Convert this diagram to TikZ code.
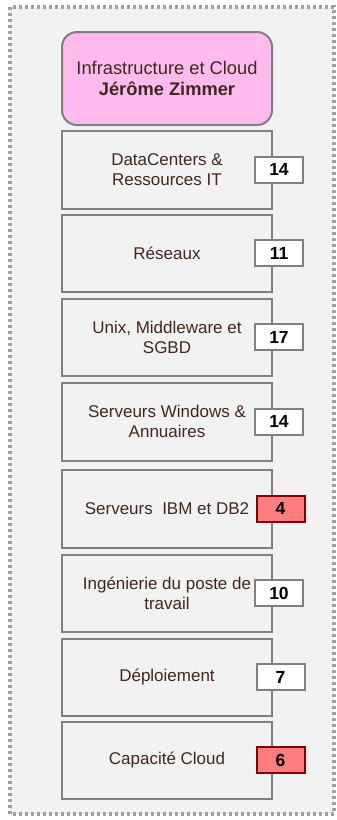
\documentclass[tikz,border=0pt]{standalone}
\usepackage{fontspec}
\setmainfont{Liberation Sans}
\definecolor{bgc}{HTML}{F2F2F2}
\definecolor{pinkc}{HTML}{FFBBEE}
\definecolor{txtc}{HTML}{40281E}
\definecolor{bordc}{HTML}{808080}
\definecolor{dashc}{HTML}{A0A0A0}
\definecolor{redf}{HTML}{FF7C80}
\definecolor{redb}{HTML}{800000}
\tikzset{
  lbox/.style={draw=bordc, line width=2pt, fill=bgc, minimum width=210pt, minimum height=77.5pt, anchor=north west, align=center, text=txtc, font=\fontsize{17}{20}\selectfont, inner sep=0pt},
  numbox/.style={draw=bordc, line width=2pt, fill=white, minimum width=48pt, minimum height=26pt, inner sep=0pt, font=\fontsize{17.5}{20}\selectfont\bfseries, text=black},
  rednum/.style={numbox, draw=redb, fill=redf},
  topbox/.style={draw=bordc, line width=2pt, fill=pinkc, rounded corners=15pt, minimum width=210pt, minimum height=93pt, anchor=north west, align=center, text=txtc, font=\fontsize{18.3}{20.5}\selectfont, inner sep=0pt}
}
\begin{document}
\begin{tikzpicture}[x=1pt,y=-1pt]
\useasboundingbox (0,0) rectangle (337,820);
\draw[dashc, line width=3.5pt, dash pattern=on 3pt off 3pt, fill=bgc] (10,7) rectangle (334,814);
\node[topbox] (top) at (61,31) {Infrastructure et Cloud\\\textbf{Jérôme Zimmer}};
\node[lbox] (b1) at (61,130) {DataCenters \&\\Ressources IT};
\node[lbox] (b2) at (61,213.5) {Réseaux};
\node[lbox] (b3) at (61,297.5) {Unix, Middleware et\\SGBD};
\node[lbox] (b4) at (61,382) {Serveurs Windows \&\\Annuaires};
\node[lbox] (b5) at (61,469) {Serveurs\ \ IBM et DB2};
\node[lbox] (b6) at (61,553.5) {Ingénierie du poste de\\travail};
\node[lbox] (b7) at (61,637.5) {Déploiement};
\node[lbox] (b8) at (61,720.5) {Capacité Cloud};
\node[numbox] (n1) at (b1.center -| 279,0) {14};
\node[numbox] (n2) at (b2.center -| 279,0) {11};
\node[numbox] (n3) at (b3.center -| 279,0) {17};
\node[numbox] (n4) at (b4.center -| 279,0) {14};
\node[rednum] (n5) at (b5.center -| 280.5,0) {4};
\node[numbox] (n6) at (b6.center -| 279,0) {10};
\node[numbox] (n7) at (b7.center -| 280.5,0) {7};
\node[rednum] (n8) at (b8.center -| 280.5,0) {6};
\end{tikzpicture}
\end{document}
